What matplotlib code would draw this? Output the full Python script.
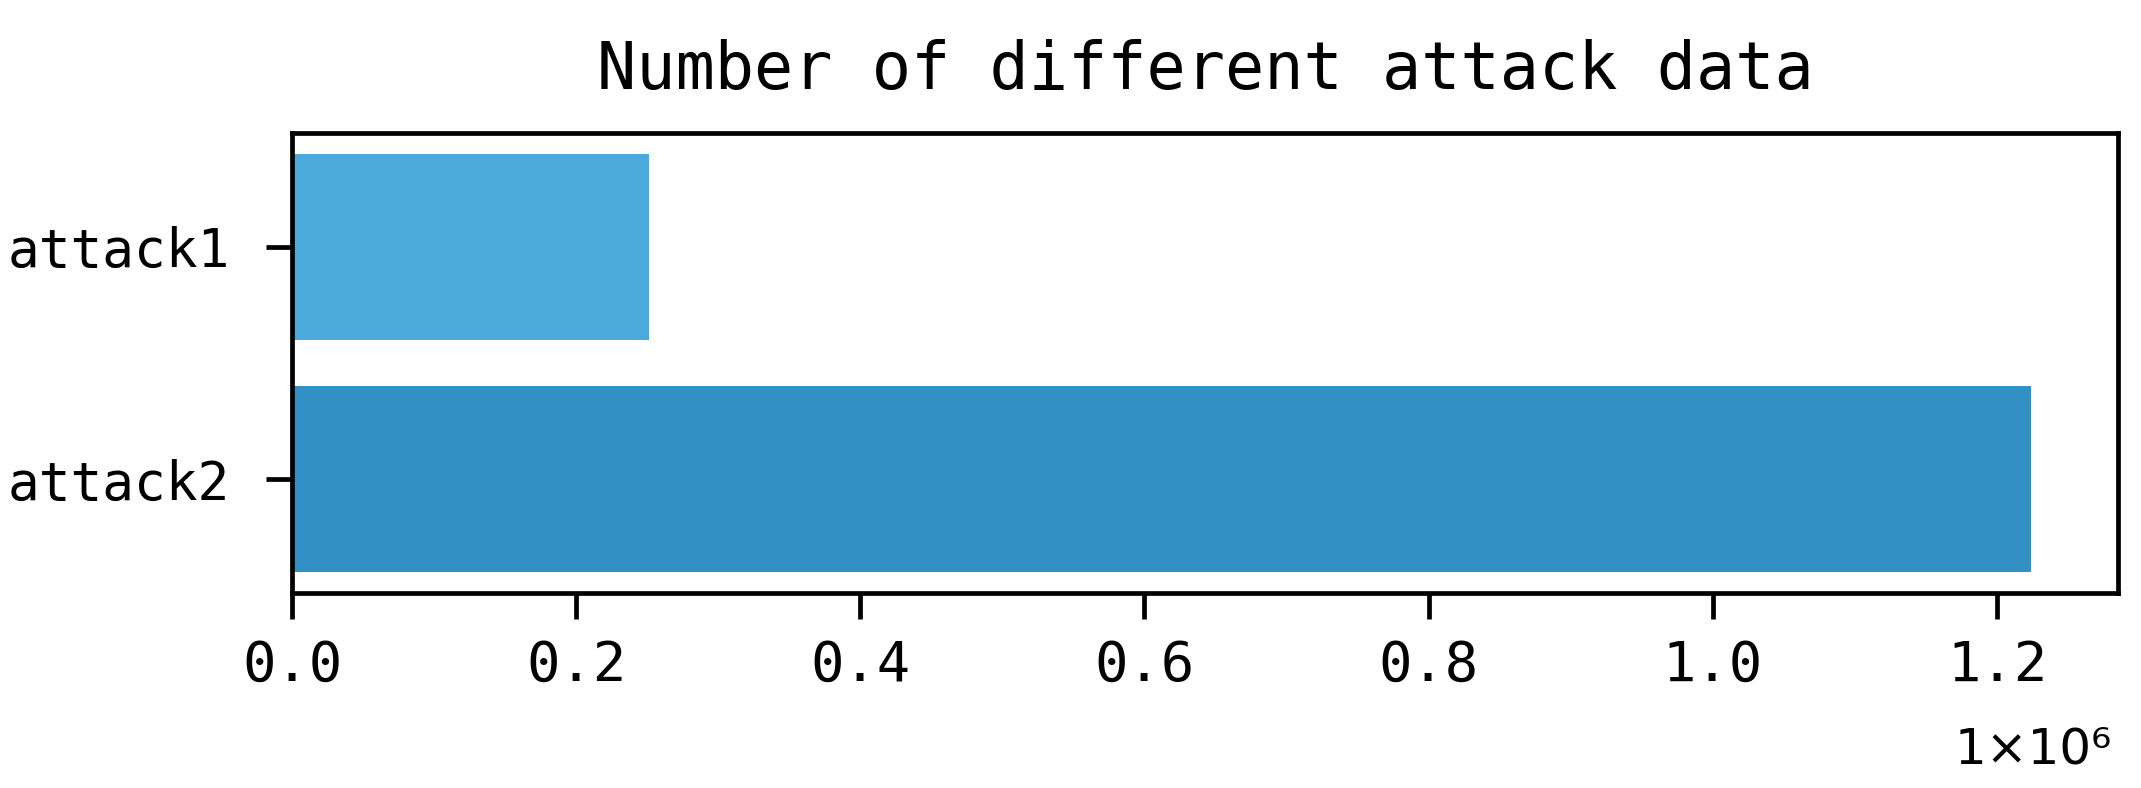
import numpy as np
import matplotlib
matplotlib.use("Agg")
import matplotlib.pyplot as plt

# data
categories = ["attack1", "attack2"]
counts = [251000, 1224000]
bar_colors = ["#4ba9dc", "#3290c4"]

plt.rcParams['font.family'] = ['DejaVu Sans Mono', 'DejaVu Sans']

fig = plt.figure(figsize=(21.41, 7.88), dpi=100)
ax = fig.add_axes([292 / 2141, 1 - 593 / 788, (2118 - 292) / 2141, (593 - 133) / 788])

y = np.arange(len(categories))
ax.barh(y, counts, color=bar_colors)
ax.set_yticks(y)
ax.set_yticklabels(categories)
ax.invert_yaxis()

xt = np.arange(0, 1.21e6, 0.2e6)
ax.set_xticks(xt)
ax.set_xticklabels([f"{v / 1e6:.1f}" for v in xt])

for s in ax.spines.values():
    s.set_linewidth(3.4)
ax.tick_params(axis='both', length=19, width=3.4)
ax.tick_params(axis='y', pad=26, labelsize=38)
ax.tick_params(axis='x', pad=14, labelsize=40)

ax.set_title("Number of different attack data", fontsize=47, pad=32)

# scale factor shown below the axis
fig.text(2112 / 2141, 1 - 763 / 788, "1×10⁶", ha='right', va='baseline',
         fontsize=36, family=['DejaVu Sans'])

fig.savefig("out.png", dpi=100)
